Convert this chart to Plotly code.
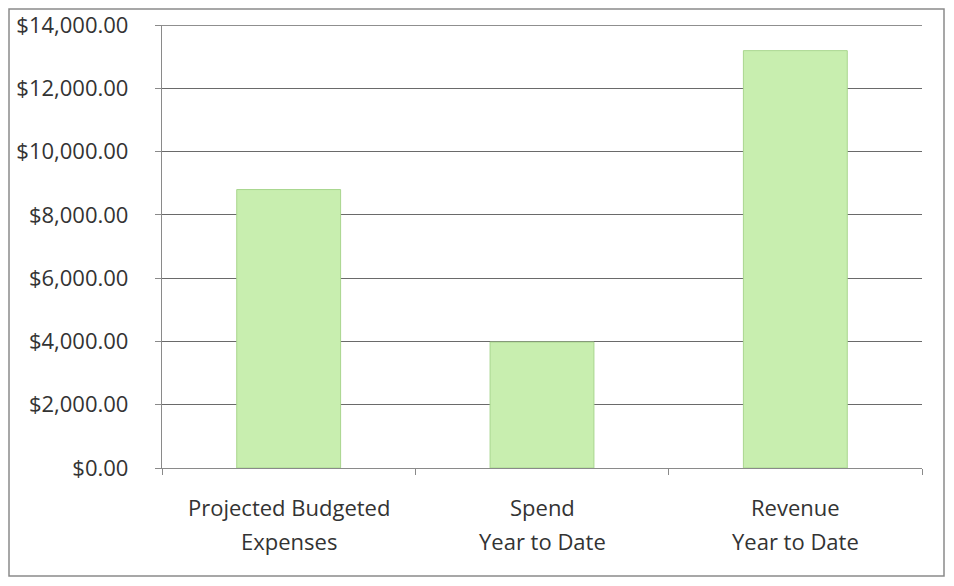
import plotly.graph_objects as go

categories = ["Projected Budgeted Expenses", "Spend Year to Date", "Revenue Year to Date"]
label_line1 = ["Projected Budgeted", "Spend", "Revenue"]
label_line2 = ["Expenses", "Year to Date", "Year to Date"]
values = [8800, 3980, 13190]
y_ticks = [0, 2000, 4000, 6000, 8000, 10000, 12000, 14000]
y_max = 14000

FONT = "'Open Sans', Lato, sans-serif"
TXT = "#333333"
FS = 22
GRID = "#6a6a6a"

# page body has an 8px default margin; size figure so it fits the window
W, H = 938, 570
L, R, T, B = 154, 24, 17, 110
pw, ph = W - L - R, H - T - B

fig = go.Figure()
fig.add_trace(go.Bar(
    x=categories, y=values,
    marker=dict(color="#c8eeaf", line=dict(color="#a9d68e", width=1)),
    width=0.41, showlegend=False,
))

for c, a, b in zip(categories, label_line1, label_line2):
    fig.add_annotation(x=c, xref="x", yref="paper", y=0, text=a, showarrow=False,
                       yanchor="middle", yshift=-39, font=dict(family=FONT, size=FS, color=TXT))
    fig.add_annotation(x=c, xref="x", yref="paper", y=0, text=b, showarrow=False,
                       yanchor="middle", yshift=-73, font=dict(family=FONT, size=FS, color=TXT))

# outer chart border
fig.add_shape(type="rect", xref="paper", yref="paper",
              x0=(1 - L) / pw, x1=(W - 2 - L) / pw,
              y0=(H - B - (H - 2)) / ph, y1=(H - B - 1) / ph,
              line=dict(color="#8a8a8a", width=1.5), fillcolor="rgba(0,0,0,0)", layer="below")
# top gridline (at the range edge)
fig.add_shape(type="line", xref="paper", yref="y", x0=0, x1=1, y0=y_max, y1=y_max,
              line=dict(color=GRID, width=1.4), layer="below")

fig.update_layout(
    width=W, height=H,
    margin=dict(l=L, r=R, t=T, b=B, autoexpand=False),
    paper_bgcolor="white", plot_bgcolor="white",
    font=dict(family=FONT, size=FS, color=TXT),
    xaxis=dict(showticklabels=False, showgrid=False, showline=True, linecolor="#8a8a8a", linewidth=1.3,
               ticks="outside", tickson="boundaries", ticklen=6, tickcolor="#8a8a8a", automargin=False),
    yaxis=dict(range=[0, y_max], tickvals=y_ticks, tickformat="$,.2f",
               showgrid=True, gridcolor=GRID, gridwidth=1.4,
               showline=True, linecolor="#8a8a8a", linewidth=1.3,
               ticks="outside", ticklen=6, tickcolor="#8a8a8a", ticklabelstandoff=22,
               ticklabeloverflow="allow",
               zeroline=False, automargin=False,
               tickfont=dict(family=FONT, size=FS, color=TXT)),
    bargap=0.59,
)

fig.write_html("out.html")
